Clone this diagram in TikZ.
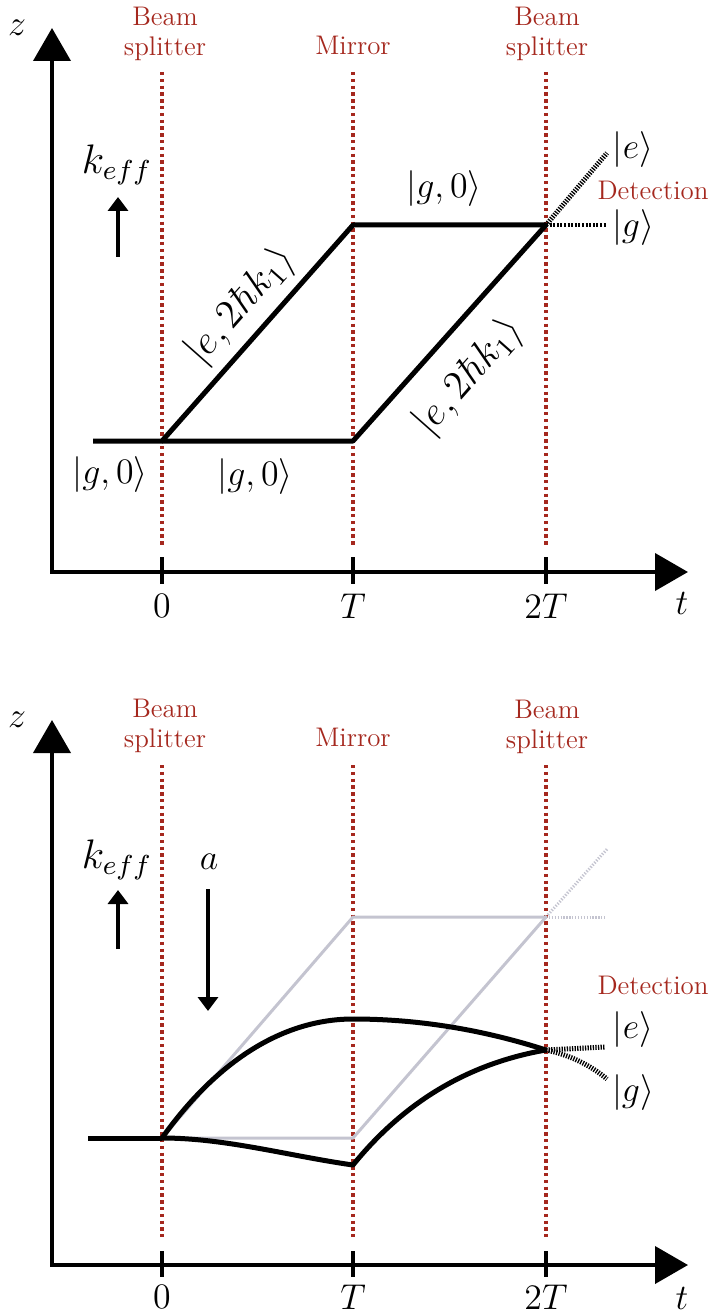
\documentclass[tikz,border=0pt]{standalone}
\usetikzlibrary{arrows.meta}
\definecolor{bsred}{RGB}{165,40,30}
\definecolor{ghost}{RGB}{196,196,208}
\begin{document}
\begin{tikzpicture}[x=1bp,y=-1bp,
 axis/.style={line width=4bp,line join=miter,{Triangle[width=37bp,length=33bp]}-{Triangle[width=37bp,length=33bp]}},
 tickmark/.style={line width=4bp},
 pulse/.style={bsred,line width=3.6bp,dash pattern=on 3.4bp off 3.4bp},
 arm/.style={line width=5bp,line join=round},
 ghostarm/.style={ghost,line width=3bp,line join=round},
 outport/.style={line width=5bp,dash pattern=on 1.3bp off 1.3bp},
 outporth/.style={line width=4bp,dash pattern=on 2bp off 1.6bp},
 ghostport/.style={ghost,line width=3bp,dash pattern=on 1.3bp off 1.6bp},
 mlabel/.style={font=\fontsize{12}{14}\selectfont,scale=3,inner sep=0pt},
 rlabel/.style={bsred,font=\fontsize{12}{13.5}\selectfont,scale=2.25,align=center,inner sep=0pt},
 kvec/.style={line width=4bp,-{Triangle[width=20bp,length=14bp]}}]
\useasboundingbox (0,0) rectangle (709,1316);

% ================= TOP PANEL =================
\coordinate (O1) at (52,572);
\coordinate (Z1) at (52,28);
\coordinate (T1) at (688,572);
\draw[axis] (Z1) -- (O1) -- (T1);
\node[mlabel] (z1) at (17,28) {$z$};
\node[mlabel] (t1) at (682,603) {$t$};

\foreach \xx/\lab/\nm in {162/0/a,353/T/b,546/2T/c}{
  \draw[tickmark] (\xx,557) -- (\xx,584);
  \draw[pulse] (\xx,72) -- (\xx,545);
  \node[mlabel] (tk1\nm) at (\xx,606) {$\lab$};
}
\node[rlabel] (bs1a) at (165,34) {Beam\\splitter};
\node[rlabel] (mi1) at (353,45) {Mirror};
\node[rlabel] (bs1b) at (547,34) {Beam\\splitter};

\node[mlabel,scale=1.15] (keff1) at (117,165) {$k_{eff}$};
\coordinate (k1s) at (118,257);
\coordinate (k1e) at (118,197);
\draw[kvec] (k1s) -- (k1e);

\coordinate (in1) at (93,441);
\coordinate (A1) at (162,441);
\coordinate (B1) at (353,441);
\coordinate (C1) at (353,225);
\coordinate (D1) at (546,225);
\coordinate (E1) at (607,153);
\coordinate (G1) at (607,225);
\draw[outport] (D1) -- (E1);
\draw[outporth] (D1) -- (G1);
\draw[arm] (in1) -- (A1) -- (C1) -- (D1);
\draw[arm] (A1) -- (B1) -- (D1);

\node[mlabel] (g1a) at (110,475) {$|g,0\rangle$};
\node[mlabel] (g1b) at (255,477) {$|g,0\rangle$};
\node[mlabel] (g1c) at (444,189) {$|g,0\rangle$};
\node[mlabel,scale=1.13,rotate=48.5] (e1a) at (241,306) {$|e,2\hbar k_1\rangle$};
\node[mlabel,scale=1.13,rotate=48.5] (e1b) at (469,377) {$|e,2\hbar k_1\rangle$};
\node[mlabel] (ke1) at (633,150) {$|e\rangle$};
\node[rlabel] (det1) at (653,190) {Detection};
\node[mlabel] (kg1) at (633,228) {$|g\rangle$};

% ================= BOTTOM PANEL =================
\coordinate (O2) at (52,1265);
\coordinate (Z2) at (52,720);
\coordinate (T2) at (688,1265);
\draw[axis] (Z2) -- (O2) -- (T2);
\node[mlabel] (z2) at (17,720) {$z$};
\node[mlabel] (t2) at (682,1298) {$t$};

\foreach \xx/\lab/\nm in {162/0/a,353/T/b,546/2T/c}{
  \draw[tickmark] (\xx,1251) -- (\xx,1277);
  \draw[pulse] (\xx,765) -- (\xx,1237);
  \node[mlabel] (tk2\nm) at (\xx,1297) {$\lab$};
}
\node[rlabel] (bs2a) at (165,726) {Beam\\splitter};
\node[rlabel] (mi2) at (353,737) {Mirror};
\node[rlabel] (bs2b) at (547,727) {Beam\\splitter};

\node[mlabel,scale=1.15] (keff2) at (117,860) {$k_{eff}$};
\coordinate (k2s) at (118,949);
\coordinate (k2e) at (118,890);
\draw[kvec] (k2s) -- (k2e);
\node[mlabel] (acc) at (209,862) {$a$};
\coordinate (a2s) at (208,889);
\coordinate (a2e) at (208,1011);
\draw[kvec] (a2s) -- (a2e);

% ghost (no gravity) interferometer
\coordinate (A2) at (162,1138);
\coordinate (gB2) at (353,1138);
\coordinate (gC2) at (353,917);
\coordinate (gD2) at (546,917);
\coordinate (gE2) at (608,848);
\coordinate (gG2) at (605,917);
\draw[ghostport] (gD2) -- (gE2);
\draw[ghostport] (gD2) -- (gG2);
\draw[ghostarm] (A2) -- (gC2) -- (gD2);
\draw[ghostarm] (A2) -- (gB2) -- (gD2);

% real trajectories
\coordinate (in2) at (88,1138);
\coordinate (C2) at (353,1019);
\coordinate (B2) at (353,1165);
\coordinate (D2) at (546,1050);
\coordinate (E2) at (605,1047);
\coordinate (G2) at (607,1079);
\draw[outport] (D2) -- (E2);
\draw[outport] (D2) .. controls (570,1055) and (590,1065) .. (G2);
\draw[arm] (in2) -- (A2);
\draw[arm] (A2) .. controls (222,1054) and (289.3,1019) .. (C2)
               .. controls (417.3,1019) and (481.7,1029.3) .. (D2);
\draw[arm] (A2) .. controls (225.7,1138) and (289.3,1156) .. (B2)
               .. controls (404.3,1101.7) and (468.7,1063.3) .. (D2);

\node[rlabel] (det2) at (653,985) {Detection};
\node[mlabel] (ke2) at (633,1030) {$|e\rangle$};
\node[mlabel] (kg2) at (633,1093) {$|g\rangle$};
\end{tikzpicture}
\end{document}
